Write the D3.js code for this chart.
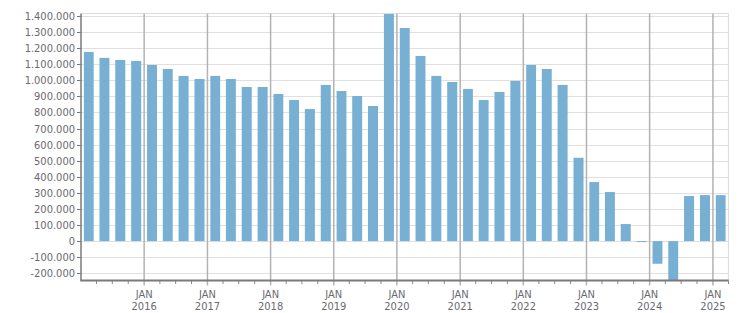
<!DOCTYPE html>
<html>
<head>
<meta charset="utf-8">
<script src="https://cdn.jsdelivr.net/npm/d3@7"></script>
<style>
  html, body { margin: 0; padding: 0; background: #fff; }
  svg { display: block; }
  text { font-family: "DejaVu Sans Condensed", "Liberation Sans", "DejaVu Sans", sans-serif; font-size: 11px; fill: #6a6a72; }
</style>
</head>
<body>
<svg id="chart" width="751" height="313"></svg>
<script>
// Quarterly periods (quarter start) and values
const periods = [
  "2015-01","2015-04","2015-07","2015-10",
  "2016-01","2016-04","2016-07","2016-10",
  "2017-01","2017-04","2017-07","2017-10",
  "2018-01","2018-04","2018-07","2018-10",
  "2019-01","2019-04","2019-07","2019-10",
  "2020-01","2020-04","2020-07","2020-10",
  "2021-01","2021-04","2021-07","2021-10",
  "2022-01","2022-04","2022-07","2022-10",
  "2023-01","2023-04","2023-07","2023-10",
  "2024-01","2024-04","2024-07","2024-10",
  "2025-01"
];
const values = [
  1176000,1139000,1126000,1120000,
  1095000,1070000,1027000,1008000,
  1027000,1008000,958000,958000,
  915000,877000,821000,971000,
  933000,902000,840000,1412000,
  1325000,1151000,1027000,989000,
  946000,877000,927000,996000,
  1095000,1070000,971000,518000,
  367000,305000,106000,-5000,
  -141000,-260000,280000,286000,
  286000
];
const yTicks = [-200000,-100000,0,100000,200000,300000,400000,500000,600000,700000,800000,900000,1000000,1100000,1200000,1300000,1400000];
const xTickYears = [2016,2017,2018,2019,2020,2021,2022,2023,2024,2025];
const xMonthLabel = "JAN";
const xDomain = ["2015-01-01","2025-04-01"];
const yDomain = [-245000, 1415000];

(function () {
const parse = d3.timeParse("%Y-%m");
const parseDay = d3.timeParse("%Y-%m-%d");
const data = periods.map((p, i) => ({ start: parse(p), end: d3.timeMonth.offset(parse(p), 3), value: values[i] }));

const svg = d3.select("#chart");
const pL = 81, pR = 728.5, pT = 13.5, pB = 280.5;

const x = d3.scaleTime().domain(xDomain.map(parseDay)).range([pL, pR]);
const y = d3.scaleLinear().domain(yDomain).range([pB, pT]).clamp(true);

const loc = d3.formatLocale({ decimal: ",", thousands: ".", grouping: [3], currency: ["", ""], minus: "-" });
const fmt = loc.format(",d");

// frame (top & right)
svg.append("line").attr("x1", pL).attr("x2", pR).attr("y1", pT).attr("y2", pT)
  .attr("stroke", "#dedede").attr("stroke-width", 1);
svg.append("line").attr("x1", pR).attr("x2", pR).attr("y1", pT).attr("y2", pB)
  .attr("stroke", "#dedede").attr("stroke-width", 1.2);

// horizontal gridlines
svg.append("g").selectAll("line").data(yTicks).join("line")
  .attr("x1", pL).attr("x2", pR)
  .attr("y1", d => Math.round(y(d)) + 0.5).attr("y2", d => Math.round(y(d)) + 0.5)
  .attr("stroke", "#e0e0e0").attr("stroke-width", 1.2);

// quarterly minor ticks
const quarterTicks = d3.timeMonth.every(3).range(x.domain()[0], d3.timeDay.offset(x.domain()[1], 1));
svg.append("g").selectAll("line").data(quarterTicks.filter(d => d.getMonth() !== 0)).join("line")
  .attr("x1", d => x(d)).attr("x2", d => x(d))
  .attr("y1", pB).attr("y2", pB + 3.5)
  .attr("stroke", "#888").attr("stroke-width", 1);

// vertical gridlines at January
const janDates = xTickYears.map(yr => new Date(yr, 0, 1));
svg.append("g").selectAll("line").data(janDates).join("line")
  .attr("x1", d => x(d)).attr("x2", d => x(d))
  .attr("y1", pT).attr("y2", pB + 5)
  .attr("stroke", "#b3b3b3").attr("stroke-width", 1.5);

// bars
const barFrac = 0.63;
svg.append("g").selectAll("rect").data(data).join("rect")
  .attr("x", d => { const w = x(d.end) - x(d.start); return x(d.start) + w * (1 - barFrac) / 2; })
  .attr("width", d => (x(d.end) - x(d.start)) * barFrac)
  .attr("y", d => Math.min(y(d.value), y(0)))
  .attr("height", d => Math.max(1, Math.abs(y(d.value) - y(0))))
  .attr("fill", "#78b0d3");

// left axis line + ticks
svg.append("line").attr("x1", pL).attr("x2", pL).attr("y1", pT).attr("y2", pB)
  .attr("stroke", "#7a7a7a").attr("stroke-width", 1.5);
svg.append("g").selectAll("line").data(yTicks).join("line")
  .attr("x1", pL - 4).attr("x2", pL)
  .attr("y1", d => Math.round(y(d)) + 0.5).attr("y2", d => Math.round(y(d)) + 0.5)
  .attr("stroke", "#7a7a7a").attr("stroke-width", 1);
svg.append("g").selectAll("text").data(yTicks).join("text")
  .attr("x", pL - 6).attr("y", d => y(d) + 4)
  .attr("text-anchor", "end")
  .text(d => fmt(d));

// bottom axis line
svg.append("line").attr("x1", pL - 0.75).attr("x2", pR).attr("y1", pB).attr("y2", pB)
  .attr("stroke", "#7a7a7a").attr("stroke-width", 2);

// x labels
const xl = svg.append("g").selectAll("g").data(janDates).join("g")
  .attr("transform", d => `translate(${x(d)},0)`);
xl.append("text").attr("y", 298).attr("text-anchor", "middle").text(xMonthLabel);
xl.append("text").attr("y", 310).attr("text-anchor", "middle").text(d => d.getFullYear());
})();
</script>
</body>
</html>
